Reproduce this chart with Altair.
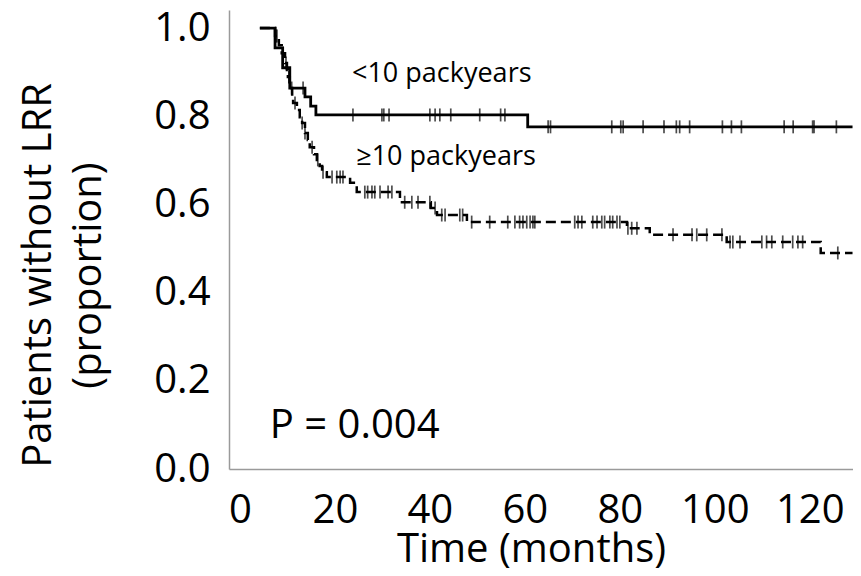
import altair as alt
import pandas as pd

# Kaplan-Meier step curves (time in months, proportion without LRR)
lt10_t = [4.2, 7.4, 9.0, 10.5, 13.7, 14.9, 16.0, 60.6, 129.0]
lt10_s = [1.000, 0.955, 0.910, 0.864, 0.844, 0.823, 0.803, 0.776, 0.776]

ge10_t = [4.2, 7.4, 8.2, 8.8, 9.5, 9.9, 10.1, 10.5, 11.0, 11.2, 12.0, 12.6, 13.1,
          13.7, 14.3, 14.7, 15.6, 16.2, 16.8, 17.3, 18.3, 23.2, 24.6, 33.7, 40.2,
          41.5, 47.8, 81.5, 86.3, 102.5, 122.3, 129.0]
ge10_s = [1.000, 0.982, 0.961, 0.943, 0.921, 0.905, 0.889, 0.864, 0.846, 0.830,
          0.814, 0.798, 0.785, 0.762, 0.746, 0.730, 0.714, 0.701, 0.687, 0.673,
          0.662, 0.649, 0.628, 0.605, 0.592, 0.576, 0.560, 0.546, 0.531, 0.515,
          0.490, 0.490]

# censored observations (months)
lt10_cens = [13.3, 23.8, 29.9, 30.3, 31.4, 40.0, 41.1, 42.1, 44.4, 50.5, 54.9, 55.8,
             64.9, 65.4, 78.3, 80.2, 80.7, 84.9, 89.3, 91.9, 92.6, 94.7, 101.6,
             103.5, 105.6, 114.6, 116.5, 120.6, 120.9, 125.6]
ge10_cens = [7.6, 7.8, 9.1, 9.7, 10.3, 10.9, 11.6, 13.1, 13.7, 15.2, 16.4, 17.5,
             19.4, 20.4, 21.1, 21.7, 26.3, 26.9, 27.8, 28.4, 29.5, 31.2, 32.0,
             34.7, 36.2, 37.5, 40.0, 41.1, 42.5, 43.2, 46.3, 46.9, 48.8, 52.6,
             56.4, 57.9, 58.9, 59.6, 60.4, 61.1, 61.7, 62.1, 70.5, 71.2, 72.0,
             74.3, 75.2, 76.2, 76.8, 77.9, 78.5, 79.4, 80.0, 81.7, 82.5, 83.6,
             91.2, 95.2, 96.2, 98.3, 101.5, 103.2, 103.8, 105.3, 109.9, 110.9,
             112.0, 114.3, 116.4, 117.5, 118.5, 125.9]

x_ticks = [0, 20, 40, 60, 80, 100, 120]
y_ticks = [0.0, 0.2, 0.4, 0.6, 0.8, 1.0]

label_text = ["<10 packyears", "\u226510 packyears"]
label_t = [42.5, 43.4]
label_s = [0.878, 0.689]

p_text = ["P = 0.004"]
p_t = [6.3]
p_s = [0.071]


def step_value(ts, ss, t):
    v = ss[0]
    for ti, si in zip(ts, ss):
        if ti <= t:
            v = si
    return v


df_lt = pd.DataFrame({"t": lt10_t, "s": lt10_s})
df_ge = pd.DataFrame({"t": ge10_t, "s": ge10_s})
df_cens = pd.DataFrame(
    {"t": lt10_cens + ge10_cens,
     "s": [step_value(lt10_t, lt10_s, t) for t in lt10_cens]
          + [step_value(ge10_t, ge10_s, t) for t in ge10_cens]}
)
df_lab = pd.DataFrame({"text": label_text, "t": label_t, "s": label_s})
df_p = pd.DataFrame({"text": p_text, "t": p_t, "s": p_s})

FONT = "Open Sans"
xscale = alt.Scale(domain=[-2.3, 129.1], nice=False, zero=False)
yscale = alt.Scale(domain=[0, 1.041], nice=False, zero=False)

xaxis = alt.Axis(
    values=x_ticks, format="d", title="Time (months)", grid=False, ticks=False,
    domainColor="#9a9a9a", domainWidth=1.5, labelFont=FONT, labelFontSize=40,
    labelColor="black", labelBaseline="alphabetic", labelPadding=53,
    labelFlush=False, labelOverlap=False,
    titleFont=FONT, titleFontSize=40, titleFontWeight="normal", titleColor="black",
    titleX=302, titleY=92, titleAlign="center", titleBaseline="alphabetic",
)
yaxis = alt.Axis(
    values=y_ticks, format=".1f", title=["Patients without LRR", "(proportion)"],
    grid=False, ticks=False, domainColor="#9a9a9a", domainWidth=1.5,
    labelFont=FONT, labelFontSize=40, labelColor="black", labelPadding=19,
    labelFlush=False, labelOverlap=False,
    titleFont=FONT, titleFontSize=40, titleFontWeight="normal", titleColor="black",
    titleAngle=270, titleX=-179, titleY=265, titleAlign="center",
    titleBaseline="alphabetic", titleLineHeight=50,
)

base_x = alt.X("t:Q", scale=xscale, axis=xaxis)
base_y = alt.Y("s:Q", scale=yscale, axis=yaxis)

line_lt = alt.Chart(df_lt).mark_line(
    interpolate="step-after", color="black", strokeWidth=2.8, clip=True
).encode(x=base_x, y=base_y)

line_ge = alt.Chart(df_ge).mark_line(
    interpolate="step-after", color="black", strokeWidth=2.5, strokeDash=[10, 5], clip=True
).encode(x="t:Q", y="s:Q")

cens = alt.Chart(df_cens).mark_tick(
    orient="vertical", size=13, thickness=1.7, color="black", clip=True
).encode(x="t:Q", y="s:Q")

labels = alt.Chart(df_lab).mark_text(
    font=FONT, fontSize=27, align="center", baseline="alphabetic", color="black"
).encode(x="t:Q", y="s:Q", text="text:N")

ptext = alt.Chart(df_p).mark_text(
    font=FONT, fontSize=40, align="left", baseline="alphabetic", color="black"
).encode(x="t:Q", y="s:Q", text="text:N")

chart = alt.layer(line_lt, line_ge, cens, labels, ptext).properties(
    width=624, height=459,
    padding={"left": 221, "top": 2, "right": 0, "bottom": 99},
    autosize=alt.AutoSizeParams(type="none"),
    background="white",
).configure_view(stroke=None)

chart.save("out.html", embed_options={"renderer": "svg", "actions": False})
